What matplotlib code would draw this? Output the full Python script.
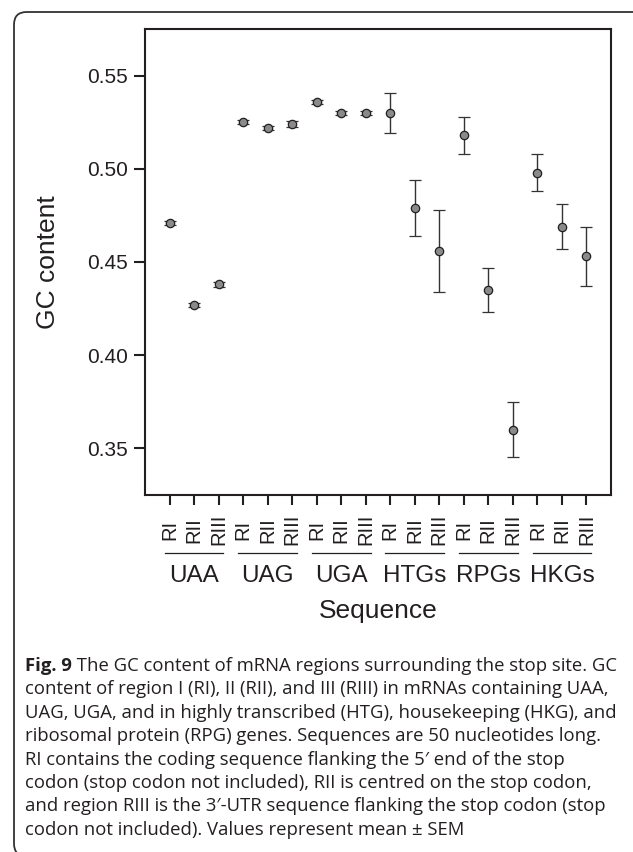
import matplotlib
matplotlib.use("Agg")
import matplotlib.pyplot as plt
from matplotlib.patches import FancyBboxPatch
import numpy as np

groups = ["UAA", "UAG", "UGA", "HTGs", "RPGs", "HKGs"]
regions = ["RI", "RII", "RIII"]

# mean GC content per group, regions RI / RII / RIII
gc_mean = [
    [0.471, 0.427, 0.438],
    [0.525, 0.522, 0.524],
    [0.536, 0.530, 0.530],
    [0.530, 0.479, 0.456],
    [0.518, 0.435, 0.360],
    [0.498, 0.469, 0.453],
]
gc_sem = [
    [0.0010, 0.0010, 0.0012],
    [0.0010, 0.0012, 0.0014],
    [0.0010, 0.0010, 0.0010],
    [0.0107, 0.0148, 0.0220],
    [0.0099, 0.0120, 0.0148],
    [0.0097, 0.0119, 0.0158],
]

caption_lines = [
    "content of region I (RI), II (RII), and III (RIII) in mRNAs containing UAA,",
    "UAG, UGA, and in highly transcribed (HTG), housekeeping (HKG), and",
    "ribosomal protein (RPG) genes. Sequences are 50 nucleotides long.",
    "RI contains the coding sequence flanking the 5\u2032 end of the stop",
    "codon (stop codon not included), RII is centred on the stop codon,",
    "and region RIII is the 3\u2032-UTR sequence flanking the stop codon (stop",
    "codon not included). Values represent mean \u00b1 SEM",
]
caption_head = "Fig. 9"
caption_first = " The GC content of mRNA regions surrounding the stop site. GC"

W, H = 633, 852
ink = "#231f20"
plt.rcParams["font.family"] = ["Liberation Sans", "DejaVu Sans"]

fig = plt.figure(figsize=(W / 100, H / 100), dpi=100)
fig.patch.set_facecolor("white")

# outer frame with rounded corners (right/bottom run off the page)
frame = FancyBboxPatch((14 / W, -0.005), 1.2, 1 - 12 / H + 0.005,
                       boxstyle="round,pad=0,rounding_size=0.02",
                       transform=fig.transFigure, fill=False,
                       edgecolor="#333333", linewidth=1.3,
                       mutation_aspect=W / H)
fig.patches.append(frame)

ax = fig.add_axes([145 / W, 1 - 495 / H, (611 - 145) / W, (495 - 29) / H])

means = np.array(gc_mean).ravel()
sems = np.array(gc_sem).ravel()
xs = np.arange(len(means))

ax.errorbar(xs, means, yerr=sems, fmt="o", color=ink, ecolor="#333333",
            elinewidth=1.0, capsize=4, capthick=1.0,
            markerfacecolor="#8a8a8a", markeredgecolor=ink,
            markeredgewidth=0.9, markersize=6)

ax.set_xlim(-1, len(means))
ax.set_ylim(0.325, 0.575)
ax.set_yticks([0.35, 0.40, 0.45, 0.50, 0.55])
ax.set_yticklabels(["%.2f" % v for v in [0.35, 0.40, 0.45, 0.50, 0.55]])
ax.set_xticks(xs)
ax.set_xticklabels(regions * len(groups), rotation=90, va="center")

for s in ax.spines.values():
    s.set_linewidth(1.5)
    s.set_color(ink)
ax.tick_params(axis="y", direction="out", length=8, width=1.5,
               labelsize=15, pad=4, colors=ink)
ax.tick_params(axis="x", direction="out", length=7, width=1.5,
               labelsize=14.5, pad=18, colors=ink)

ax.set_ylabel("GC content", fontsize=19, color=ink, labelpad=20)

# group brackets and names under the tick labels
trans = ax.get_xaxis_transform()
for i, g in enumerate(groups):
    x0, x1 = 3 * i, 3 * i + 2
    ax.plot([x0 - 0.2, x1 + 0.2], [-0.1245, -0.1245], color=ink, lw=0.9,
            transform=trans, clip_on=False)
    ax.text(x0 + 1, -0.186, g, transform=trans, ha="center",
            va="baseline", fontsize=17.5, color=ink)

ax.text(0.5, -0.264, "Sequence", transform=ax.transAxes, ha="center",
        va="baseline", fontsize=19, color=ink)

# caption
cap_font = "Open Sans"
cap_size = 13.3
y0 = 1 - 671 / H
dy = 23.4 / H
x0 = 25 / W
head = fig.text(x0, y0, caption_head, fontsize=cap_size, family=cap_font,
                weight="bold", color=ink, va="baseline")
renderer = fig.canvas.get_renderer()
hw = head.get_window_extent(renderer).width / W
fig.text(x0 + hw, y0, caption_first, fontsize=cap_size, family=cap_font,
         color=ink, va="baseline")
for k, line in enumerate(caption_lines):
    fig.text(x0, y0 - (k + 1) * dy, line, fontsize=cap_size,
             family=cap_font, color=ink, va="baseline")

fig.savefig("out.png", dpi=100)
